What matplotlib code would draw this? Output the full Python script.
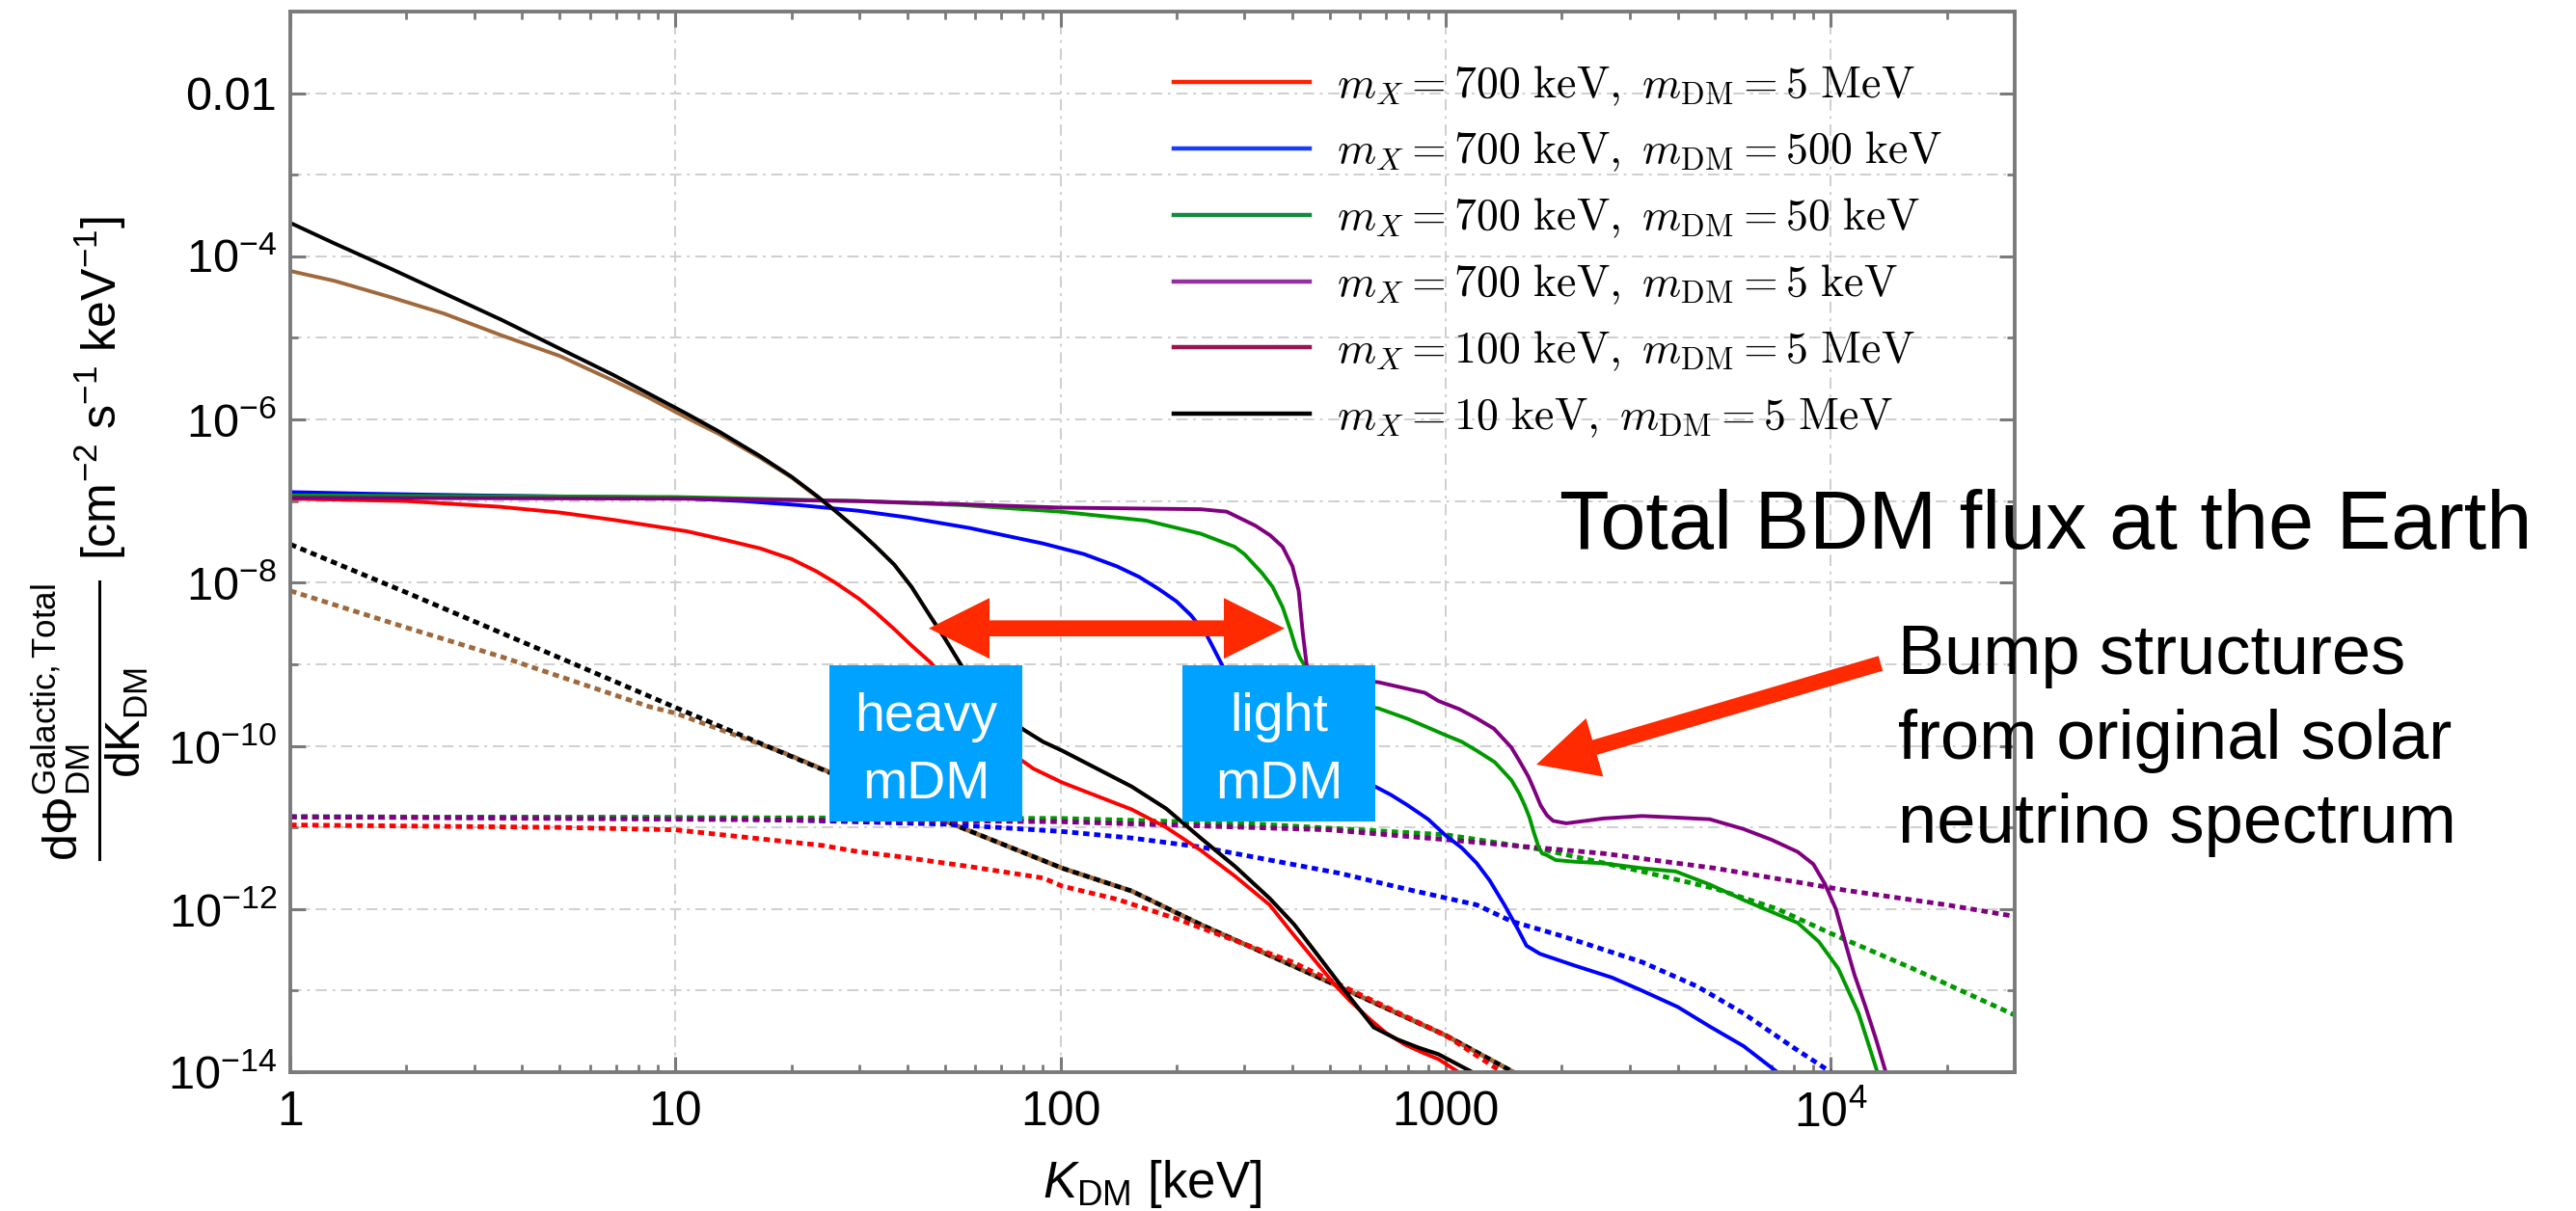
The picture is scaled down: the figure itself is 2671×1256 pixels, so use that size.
import numpy as np
import matplotlib
matplotlib.use("Agg")
import matplotlib.pyplot as plt
import matplotlib.transforms as mtransforms
from matplotlib.lines import Line2D
from matplotlib.patches import Polygon, Rectangle
from matplotlib.font_manager import FontProperties
from matplotlib.ticker import FixedLocator, FixedFormatter, NullFormatter

plt.rcParams["font.family"] = ["Liberation Sans", "DejaVu Sans"]
plt.rcParams["mathtext.fontset"] = "custom"
plt.rcParams["mathtext.rm"] = "Liberation Sans"
plt.rcParams["mathtext.it"] = "Liberation Sans:italic"
plt.rcParams["mathtext.bf"] = "Liberation Sans:bold"
plt.rcParams["mathtext.sf"] = "Liberation Sans"

# ---------------- data: kinetic energy K_DM [keV] and log10 of the flux ----------------
# m_X = 700 keV, m_DM = 5 MeV
red_K = [1, 2, 3.5, 5, 6.9, 10.7, 13, 16.6, 20, 23.2, 26, 30, 33, 37, 41, 46, 55, 65, 75, 85,
         101, 125, 153, 188, 231, 284, 349, 400, 470, 520, 565, 638, 700, 782, 870, 957, 1080,
         1150]
red_logF = [-6.97, -7.0, -7.07, -7.14, -7.23, -7.37, -7.46, -7.58, -7.71, -7.86, -8.0, -8.2,
            -8.36, -8.57, -8.77, -8.98, -9.42, -9.82, -10.1, -10.28, -10.45, -10.62, -10.78,
            -11.0, -11.28, -11.6, -11.95, -12.3, -12.7, -12.95, -13.13, -13.36, -13.52,
            -13.66, -13.76, -13.84, -14.0, -14.2]
red_dot_K = [1, 5, 10, 24, 30, 37, 58, 90, 101, 140, 200, 400, 600, 1000, 1400, 1500]
red_dot_logF = [-10.97, -11.0, -11.03, -11.22, -11.3, -11.35, -11.48, -11.62, -11.72, -11.88,
                -12.12, -12.65, -13.05, -13.55, -14.0, -14.1]

# m_X = 700 keV, m_DM = 500 keV
blue_K = [1, 1.6, 3, 10, 15, 21, 30, 40, 58, 90, 115, 140, 160, 180, 200, 218, 240, 262, 285,
          320, 370, 430, 500, 580, 656, 720, 797, 900, 1000, 1100, 1204, 1300, 1420, 1540,
          1620, 1757, 2150, 2700, 3230, 4000, 4845, 5930, 7260, 7800]
blue_logF = [-6.89, -6.91, -6.93, -6.96, -7.0, -7.05, -7.12, -7.2, -7.33, -7.52, -7.65, -7.8,
             -7.93, -8.08, -8.23, -8.4, -8.65, -9.0, -9.35, -9.65, -9.88, -10.05, -10.22,
             -10.38, -10.5, -10.6, -10.73, -10.9, -11.1, -11.25, -11.44, -11.65, -11.95,
             -12.25, -12.45, -12.55, -12.69, -12.84, -13.0, -13.2, -13.44, -13.68, -14.0, -14.2]
blue_dot_K = [1, 10, 24, 50, 101, 153, 231, 349, 528, 797, 1204, 1480, 2000, 3230, 4500, 5930,
              8000, 10000, 10500]
blue_dot_logF = [-10.87, -10.88, -10.92, -10.96, -11.05, -11.13, -11.24, -11.4, -11.56, -11.76,
                 -11.95, -12.15, -12.33, -12.65, -12.95, -13.28, -13.7, -14.0, -14.1]

# m_X = 700 keV, m_DM = 50 keV
green_K = [1, 10, 30, 56, 100, 167, 231, 283, 300, 333, 355, 377, 395, 408, 418, 428, 445, 480,
           560, 668, 797, 1000, 1100, 1204, 1340, 1480, 1550, 1603, 1650, 1690, 1742, 1780,
           1830, 1930, 2150, 2570, 3230, 3955, 4845, 6000, 8200, 9300, 10450, 11800, 12600,
           13200, 13500]
green_logF = [-6.93, -6.95, -7.0, -7.05, -7.13, -7.24, -7.4, -7.56, -7.65, -7.88, -8.05, -8.3,
              -8.58, -8.8, -8.92, -9.0, -9.3, -9.45, -9.5, -9.54, -9.67, -9.87, -9.95, -10.06,
              -10.2, -10.42, -10.58, -10.73, -10.88, -11.05, -11.24, -11.32, -11.34, -11.4,
              -11.42, -11.44, -11.5, -11.54, -11.7, -11.9, -12.17, -12.4, -12.73, -13.28,
              -13.7, -14.0, -14.2]
green_dot_K = [1, 100, 300, 1000, 1820, 3230, 5000, 7260, 10000, 16300, 30000]
green_dot_logF = [-10.87, -10.89, -10.95, -11.09, -11.28, -11.54, -11.75, -12.0, -12.3, -12.73,
                  -13.3]

# m_X = 700 keV, m_DM = 5 keV
purple_K = [1, 10, 30, 56, 100, 231, 270, 320, 350, 377, 400, 415, 425, 435, 445, 500, 600, 668,
            760, 883, 957, 1084, 1200, 1334, 1480, 1560, 1640, 1700, 1763, 1830, 1900, 2055,
            2300, 2570, 3230, 4000, 4845, 5930, 7000, 8200, 9000, 9640, 10300, 10890, 11500,
            12300, 13100, 13880, 14300]
purple_logF = [-6.96, -6.97, -7.0, -7.04, -7.08, -7.1, -7.13, -7.3, -7.42, -7.56, -7.8, -8.1,
               -8.6, -9.0, -9.15, -9.18, -9.2, -9.22, -9.28, -9.35, -9.45, -9.55, -9.66, -9.79,
               -10.02, -10.2, -10.38, -10.55, -10.73, -10.85, -10.92, -10.95, -10.92, -10.89,
               -10.86, -10.88, -10.9, -11.02, -11.15, -11.3, -11.45, -11.69, -12.0, -12.41,
               -12.8, -13.2, -13.6, -14.0, -14.2]
purple_dot_K = [1, 100, 500, 1000, 2570, 5000, 10890, 20000, 30000]
purple_dot_logF = [-10.87, -10.93, -11.03, -11.15, -11.32, -11.5, -11.77, -11.95, -12.09]

# m_X = 100 keV, m_DM = 5 MeV
brown_K = [1, 1.3, 1.82, 2.5, 3.54, 5, 6.87, 8.5, 10.7, 13, 16.6, 20, 23.2, 26, 30, 33, 37, 41,
           46, 50, 55, 60, 65, 70, 80, 90, 101, 153, 188, 231, 284, 349, 404, 480, 565, 650,
           750, 850, 957, 1172, 1250]
brown_logF = [-4.18, -4.3, -4.5, -4.7, -4.97, -5.22, -5.52, -5.73, -5.98, -6.18, -6.47, -6.71,
              -6.94, -7.12, -7.37, -7.55, -7.78, -8.05, -8.42, -8.68, -9.0, -9.25, -9.45, -9.6,
              -9.8, -9.95, -10.06, -10.5, -10.77, -11.13, -11.48, -11.87, -12.19, -12.65,
              -13.09, -13.45, -13.6, -13.7, -13.78, -14.0, -14.2]
brown_dot_K = [1, 2, 3.54, 8.55, 10, 19, 50, 101, 153, 231, 500, 1000, 1500, 1600]
brown_dot_logF = [-8.1, -8.55, -8.91, -9.52, -9.6, -10.08, -10.92, -11.5, -11.78, -12.19, -12.9,
                  -13.55, -14.0, -14.1]

# m_X = 10 keV, m_DM = 5 MeV
black_K = [1, 1.3, 1.82, 2.5, 3.54, 5, 6.87, 8.5, 10.7, 13, 16.6, 20, 23.2, 26, 30, 33, 37, 41,
           46, 50, 55, 60, 65, 70, 80, 90, 101, 153, 188, 231, 284, 349, 404, 480, 565, 650,
           750, 850, 957, 1172, 1250]
black_logF = [-3.59, -3.84, -4.15, -4.45, -4.78, -5.13, -5.45, -5.68, -5.93, -6.15, -6.45, -6.7,
              -6.93, -7.12, -7.37, -7.55, -7.78, -8.05, -8.42, -8.68, -9.0, -9.25, -9.45, -9.6,
              -9.8, -9.95, -10.06, -10.5, -10.77, -11.13, -11.48, -11.87, -12.19, -12.65,
              -13.09, -13.45, -13.6, -13.7, -13.78, -14.0, -14.2]
black_dot_K = [1, 2, 5, 10, 20, 50, 101, 153, 231, 500, 1000, 1500, 1600]
black_dot_logF = [-7.53, -8.12, -8.92, -9.53, -10.13, -10.92, -11.5, -11.78, -12.19, -12.9,
                  -13.55, -14.0, -14.1]

legend_labels = [
    r"$m_X = 700\ \mathrm{keV},\ m_{\mathrm{DM}} = 5\ \mathrm{MeV}$",
    r"$m_X = 700\ \mathrm{keV},\ m_{\mathrm{DM}} = 500\ \mathrm{keV}$",
    r"$m_X = 700\ \mathrm{keV},\ m_{\mathrm{DM}} = 50\ \mathrm{keV}$",
    r"$m_X = 700\ \mathrm{keV},\ m_{\mathrm{DM}} = 5\ \mathrm{keV}$",
    r"$m_X = 100\ \mathrm{keV},\ m_{\mathrm{DM}} = 5\ \mathrm{MeV}$",
    r"$m_X = 10\ \mathrm{keV},\ m_{\mathrm{DM}} = 5\ \mathrm{MeV}$",
]
legend_colors = ["#ff2200", "#1a3cff", "#138a40", "#96309f", "#9c1550", "#000000"]

x_major = [1, 10, 100, 1000, 1e4]
x_major_labels = ["1", "10", "100", "1000", r"$10^4$"]
y_major = [1e-14, 1e-12, 1e-10, 1e-8, 1e-6, 1e-4, 1e-2]
y_major_labels = [r"$10^{-14}$", r"$10^{-12}$", r"$10^{-10}$", r"$10^{-8}$", r"$10^{-6}$",
                  r"$10^{-4}$", "0.01"]
y_minor = [1e-13, 1e-11, 1e-9, 1e-7, 1e-5, 1e-3, 1e-1]

# ---------------- figure ----------------
W, H = 2671, 1256
fig = plt.figure(figsize=(W / 100, H / 100), dpi=100)
# pixel coordinates measured from the top-left corner of the canvas
PX = mtransforms.Affine2D().scale(1 / W, -1 / H).translate(0, 1) + fig.transFigure

ax = fig.add_axes([301 / W, 1 - 1112 / H, (2089 - 301) / W, (1112 - 12) / H])
ax.set_xscale("log")
ax.set_yscale("log")
ax.set_xlim(1, 3e4)
ax.set_ylim(1e-14, 1e-1)

grid_kw = dict(color="#cfcfcf", lw=1.4, ls=(0, (6, 3, 1.5, 3)), zorder=0)
for xv in x_major[1:]:
    ax.axvline(xv, **grid_kw)
for yv in sorted(y_major + y_minor):
    ax.axhline(yv, **grid_kw)

dot = (0, (1.35, 1.0))
lw_s, lw_d = 2.8, 3.5
series = [
    (brown_dot_K, brown_dot_logF, "#a0693c", dot, lw_d),
    (black_dot_K, black_dot_logF, "#000000", dot, lw_d),
    (red_dot_K, red_dot_logF, "#ff0000", dot, lw_d),
    (blue_dot_K, blue_dot_logF, "#0000ff", dot, lw_d),
    (green_dot_K, green_dot_logF, "#009a00", dot, lw_d),
    (purple_dot_K, purple_dot_logF, "#800080", dot, lw_d),
    (brown_K, brown_logF, "#a0693c", "-", lw_s),
    (red_K, red_logF, "#ff0000", "-", lw_s),
    (blue_K, blue_logF, "#0000ff", "-", lw_s),
    (green_K, green_logF, "#009a00", "-", lw_s),
    (purple_K, purple_logF, "#800080", "-", lw_s),
    (black_K, black_logF, "#000000", "-", lw_s),
]
for k, lf, c, ls, lw in series:
    ax.plot(k, 10.0 ** np.asarray(lf), color=c, ls=ls, lw=lw, zorder=2,
            solid_joinstyle="round")

# frame and ticks
for sp in ax.spines.values():
    sp.set_color("#7a7a7a")
    sp.set_linewidth(2.8)
ax.xaxis.set_major_locator(FixedLocator(x_major))
ax.xaxis.set_major_formatter(FixedFormatter(x_major_labels))
x_minor = [m * d for d in [1, 10, 100, 1000] for m in range(2, 10)] + [2e4, 3e4]
ax.xaxis.set_minor_locator(FixedLocator(x_minor))
ax.xaxis.set_minor_formatter(NullFormatter())
ax.yaxis.set_major_locator(FixedLocator(y_major))
ax.yaxis.set_major_formatter(FixedFormatter(y_major_labels))
ax.yaxis.set_minor_locator(FixedLocator(y_minor))
ax.yaxis.set_minor_formatter(NullFormatter())
ax.tick_params(which="both", direction="in", top=True, right=True, color="#7a7a7a")
ax.tick_params(which="major", length=11.5, width=2.2)
ax.tick_params(which="minor", length=5.8, width=2.0)
ax.tick_params(axis="x", which="major", labelsize=36, pad=14)
ax.tick_params(axis="y", which="major", labelsize=35, pad=10)

# axis titles
fig.text(1195 / W, 1 - 1228 / H, r"$K_{\mathrm{DM}}$ [keV]", fontsize=38,
         ha="center", va="center")
fig.text(94 / W, 1 - 747 / H,
         r"$\dfrac{\mathrm{d}\Phi_{\mathrm{DM}}^{\mathrm{Galactic,Total}}}{\mathrm{dK}_{\mathrm{DM}}}$",
         fontsize=36, rotation=90, ha="center", va="center")
fig.text(104 / W, 1 - 402 / H, r"[cm$^{-2}$ s$^{-1}$ keV$^{-1}$]", fontsize=36,
         rotation=90, ha="center", va="center")

# legend
handles = [Line2D([], [], color=c, lw=3.2) for c in legend_colors]
leg = ax.legend(handles, legend_labels, loc="upper left",
                bbox_to_anchor=(1217, 66), bbox_transform=PX,
                prop=FontProperties(size=33, math_fontfamily="cm"),
                frameon=False, handlelength=3.08, handletextpad=0.6,
                labelspacing=0.51, borderpad=0, borderaxespad=0)


# annotation shapes
def arrow_poly(tip, tail, sw, hl, hw, double=False):
    tip = np.asarray(tip, float)
    tail = np.asarray(tail, float)
    u = (tail - tip) / np.hypot(*(tail - tip))
    n = np.array([-u[1], u[0]])
    if not double:
        return [tip, tip + u * hl + n * hw, tip + u * hl + n * sw, tail + n * sw,
                tail - n * sw, tip + u * hl - n * sw, tip + u * hl - n * hw]
    return [tip, tip + u * hl + n * hw, tip + u * hl + n * sw, tail - u * hl + n * sw,
            tail - u * hl + n * hw, tail, tail - u * hl - n * hw, tail - u * hl - n * sw,
            tip + u * hl - n * sw, tip + u * hl - n * hw]


arrow_col = "#ff2a00"
ax.add_patch(Polygon(arrow_poly((963, 651.7), (1332, 651.7), 8.3, 63, 31.5, double=True),
                     closed=True, fc=arrow_col, ec="none", transform=PX, clip_on=False,
                     zorder=6))
ax.add_patch(Polygon(arrow_poly((1593, 793), (1950, 688), 8.0, 63, 31.5),
                     closed=True, fc=arrow_col, ec="none", transform=PX, clip_on=False,
                     zorder=6))

box_col = "#00a2ff"
for x0, words in [(860, ("heavy", "mDM")), (1226, ("light", "mDM"))]:
    ax.add_patch(Rectangle((x0, 690), 200, 162, fc=box_col, ec="none", transform=PX,
                           clip_on=False, zorder=5))
    for word, base in zip(words, (758, 828)):
        fig.text((x0 + 100) / W, 1 - base / H, word, color="white", fontsize=40,
                 ha="center", va="baseline", zorder=7)

fig.text(1617 / W, 1 - 569 / H, "Total BDM flux at the Earth", fontsize=61,
         ha="left", va="baseline")
for line, base in zip(["Bump structures", "from original solar", "neutrino spectrum"],
                      [699, 786.7, 874]):
    fig.text(1968 / W, 1 - base / H, line, fontsize=52, ha="left", va="baseline")

fig.savefig("out.png", dpi=100)
